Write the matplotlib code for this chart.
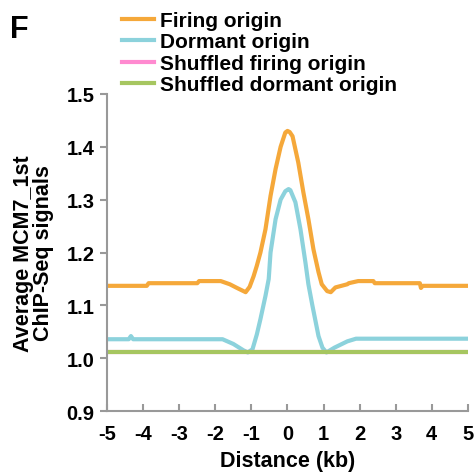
import matplotlib
matplotlib.use('Agg')
import matplotlib.pyplot as plt

plt.rcParams['font.family'] = ['Liberation Sans', 'DejaVu Sans']
plt.rcParams['font.weight'] = 'bold'

# values
firing_x = [-5, -3.9, -3.85, -2.5, -2.45, -1.85, -1.6, -1.4, -1.16, -1.05, -0.94, -0.85,
            -0.75, -0.61, -0.47, -0.33, -0.19, -0.06, 0, 0.06, 0.14, 0.30, 0.44, 0.58,
            0.72, 0.86, 0.95, 1.1, 1.2, 1.33, 1.66, 1.7, 1.96, 2.38, 2.42, 3.67, 3.7, 3.75, 5]
firing_y = [1.137, 1.137, 1.142, 1.142, 1.146, 1.146, 1.14, 1.133, 1.125, 1.135, 1.155, 1.175,
            1.20, 1.244, 1.307, 1.358, 1.40, 1.427, 1.43, 1.428, 1.42, 1.37, 1.314, 1.263,
            1.206, 1.163, 1.14, 1.127, 1.125, 1.134, 1.14, 1.142, 1.146, 1.146, 1.142, 1.142,
            1.133, 1.137, 1.137]

dormant_x = [-5, -4.4, -4.34, -4.28, -1.8, -1.5, -1.22, -1.1, -0.97, -0.85, -0.75, -0.61,
             -0.52, -0.47, -0.33, -0.19, -0.06, 0.03, 0.08, 0.22, 0.36, 0.5, 0.58, 0.69,
             0.86, 0.97, 1.08, 1.3, 1.66, 1.9, 5]
dormant_y = [1.036, 1.036, 1.042, 1.036, 1.036, 1.027, 1.015, 1.011, 1.017, 1.045, 1.074, 1.118,
             1.15, 1.20, 1.263, 1.30, 1.316, 1.32, 1.318, 1.295, 1.244, 1.18, 1.14, 1.10,
             1.042, 1.02, 1.011, 1.02, 1.032, 1.037, 1.037]

shuf_x = [-5, 5]
shuf_firing_y = [1.011, 1.011]
shuf_dormant_y = [1.011, 1.011]

xticks = [-5, -4, -3, -2, -1, 0, 1, 2, 3, 4, 5]
yticks = [0.9, 1.0, 1.1, 1.2, 1.3, 1.4, 1.5]

fig = plt.figure(figsize=(4.74, 4.77), dpi=100)
ax = fig.add_axes([0.226, 0.136, 0.761, 0.665])

ax.plot(firing_x, firing_y, color='#F5A83A', lw=3, label='Firing origin')
ax.plot(dormant_x, dormant_y, color='#8CD2DC', lw=3, label='Dormant origin')
ax.plot(shuf_x, shuf_firing_y, color='#FF8AD0', lw=3, label='Shuffled firing origin')
ax.plot(shuf_x, shuf_dormant_y, color='#A6C660', lw=3, label='Shuffled dormant origin')

ax.set_xlim(-5, 5)
ax.set_ylim(0.9, 1.5)
ax.set_xticks(xticks)
ax.set_xticklabels([str(t) for t in xticks])
ax.set_yticks(yticks)
ax.set_yticklabels(['%.1f' % t for t in yticks])

for s in ['top', 'right']:
    ax.spines[s].set_visible(False)
for s in ['left', 'bottom']:
    ax.spines[s].set_color('#999999')
    ax.spines[s].set_linewidth(1.5)
ax.tick_params(axis='y', direction='out', length=5, width=1.5, color='#999999', labelsize=14.5, pad=4)
ax.tick_params(axis='x', direction='in', length=5, width=1.5, color='#999999', labelsize=14.5, pad=9)

ax.set_xlabel('Distance (kb)', fontsize=15.5, fontweight='bold', labelpad=5)
ax.set_ylabel('Average MCM7_1st\nChIP-Seq signals', fontsize=15.5, fontweight='bold',
              linespacing=0.95, labelpad=9)

fig.legend(loc='upper left', bbox_to_anchor=(0.236, 0.997), frameon=False,
           handlelength=1.5, handletextpad=0.3, labelspacing=0.12, borderpad=0,
           prop={'weight': 'bold', 'size': 15})

fig.text(0.022, 0.92, 'F', fontsize=22, fontweight='bold')

fig.savefig('out.png', dpi=100)
